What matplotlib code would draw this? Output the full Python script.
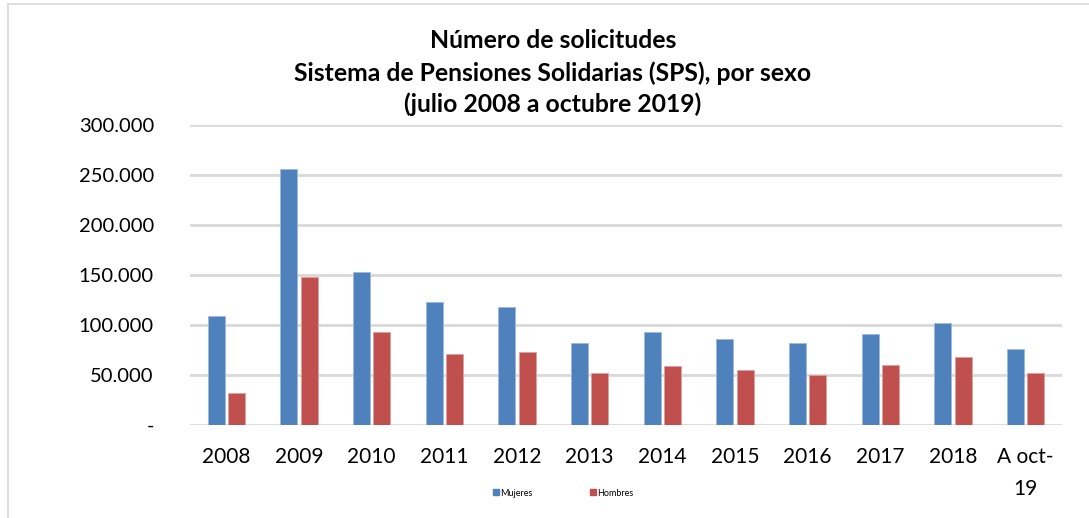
import matplotlib
matplotlib.use("Agg")
import matplotlib.pyplot as plt
import numpy as np
from matplotlib.lines import Line2D
from matplotlib.ticker import FuncFormatter

categories = ["2008", "2009", "2010", "2011", "2012", "2013", "2014",
              "2015", "2016", "2017", "2018", "A oct-\n19"]
mujeres = [109000, 256000, 152700, 123000, 118300, 82000, 92700,
           86300, 82000, 90700, 102300, 75700]
hombres = [32000, 148000, 92700, 71300, 73000, 52000, 58700,
           54700, 50300, 59700, 68300, 52000]
series_names = ["Mujeres", "Hombres"]
title_lines = ["Número de solicitudes",
               "Sistema de Pensiones Solidarias (SPS), por sexo",
               "(julio 2008 a octubre 2019)"]

plt.rcParams['font.family'] = ['Lato', 'DejaVu Sans']

W, H = 1089, 518
fig = plt.figure(figsize=(W / 100, H / 100), dpi=100)
ax = fig.add_axes([190 / W, 1 - 425 / H, (1062 - 190) / W, 300 / H])

blue = "#4F81BD"
red = "#C0504D"
x = np.arange(len(categories))
bw = 0.235
off = 0.14
ax.bar(x - off, mujeres, bw, color=blue, edgecolor="#9DB9DE", linewidth=0.6,
       label=series_names[0], zorder=3)
ax.bar(x + off, hombres, bw, color=red, edgecolor="#E0A09E", linewidth=0.6,
       label=series_names[1], zorder=3)

ax.set_xlim(-0.5, len(categories) - 0.5)
ax.set_ylim(0, 300000)
ax.set_yticks(np.arange(0, 300001, 50000))


def fmt(v, pos):
    if v == 0:
        return "-"
    return f"{int(v):,}".replace(",", ".")


ax.yaxis.set_major_formatter(FuncFormatter(fmt))
ax.grid(axis="y", color="#D9D9D9", linewidth=2, zorder=0)
ax.set_xticks(x)
ax.set_xticklabels(categories, fontsize=15, linespacing=1.75)
for lbl in ax.get_yticklabels():
    lbl.set_fontsize(14.5)
ax.tick_params(axis="both", length=0)
ax.tick_params(axis="y", pad=26)
ax.tick_params(axis="x", pad=16)
for s in ax.spines.values():
    s.set_visible(False)

# Title
ys = [40, 73, 104]
for t, yy in zip(title_lines, ys):
    fig.text(553 / W, 1 - yy / H, t, ha="center", va="center",
             fontsize=17.8, fontweight="bold")

# Legend
handles = [Line2D([], [], marker="s", linestyle="none", color=blue, markersize=4),
           Line2D([], [], marker="s", linestyle="none", color=red, markersize=4)]
leg = fig.legend(handles, series_names, loc="center", bbox_to_anchor=(563 / W, 1 - 493 / H),
                 ncol=2, frameon=False, fontsize=6.5, handletextpad=0.1,
                 columnspacing=6.3, handlelength=0.8)

# Chart border (top & left visible)
fig.add_artist(Line2D([8 / W, 1], [1 - 4 / H, 1 - 4 / H], color="#D9D9D9", linewidth=1.2,
                      transform=fig.transFigure))
fig.add_artist(Line2D([8 / W, 8 / W], [0, 1 - 4 / H], color="#D9D9D9", linewidth=1.2,
                      transform=fig.transFigure))

fig.savefig("out.png", dpi=100)
